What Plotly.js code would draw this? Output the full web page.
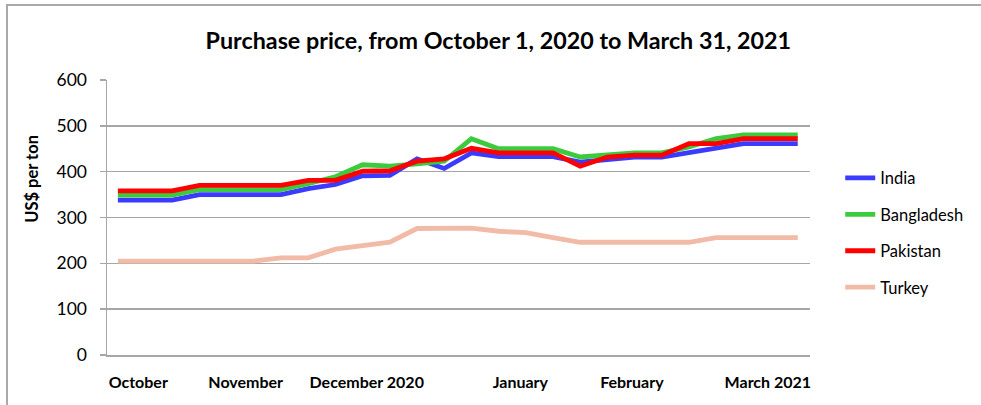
<!DOCTYPE html>
<html>
<head>
<meta charset="utf-8">
<script src="https://cdn.plot.ly/plotly-3.0.1.min.js"></script>
<style>
html,body{margin:0;padding:0;background:#fff;}
#wrap{position:relative;width:981px;height:405px;overflow:hidden;}
#chart{position:absolute;left:0;top:0;width:981px;height:405px;}
#frame{position:absolute;left:6px;top:4px;width:990px;height:420px;border-top:2px solid #a9a9a9;border-left:2px solid #a9a9a9;pointer-events:none;}
</style>
</head>
<body>
<div id="wrap"><div id="chart"></div><div id="frame"></div></div>
<script>
// Weekly observations, Oct 1 2020 .. Mar 31 2021 (26 points)
const weeks = Array.from({length: 26}, (_, i) => i);
const india      = [338,338,338,350,350,350,350,363,372,391,392,428,407,441,433,433,433,421,427,432,432,441,450,461,461,461];
const bangladesh = [349,349,349,361,361,361,361,374,389,415,412,417,423,472,450,450,450,432,436,441,441,454,472,480,480,480];
const pakistan   = [358,358,358,370,370,370,370,381,381,401,402,423,428,451,441,441,441,412,432,436,436,461,461,472,472,472];
const turkey     = [205,205,205,205,205,205,212,212,231,238,246,276,277,277,270,267,256,246,246,246,246,246,256,256,256,256];
const monthLabels = ["October","November","December 2020","January","February","March 2021"];
const monthPos    = [0.75, 4.7, 9.15, 14.8, 18.9, 23.9];

const FONT = "Lato, 'Open Sans', sans-serif";
function tr(name, y, color){
  return {x: weeks, y: y, name: name, type: 'scatter', mode: 'lines',
          legendgroup: name, line: {color: color, width: 4.8}, hoverinfo: 'skip'};
}
const data = [
  tr('India', india, '#3b3bff'),
  tr('Bangladesh', bangladesh, '#3ccb3c'),
  tr('Pakistan', pakistan, '#ff0000'),
  tr('Turkey', turkey, '#f2bba8')
];
const layout = {
  width: 981, height: 405,
  margin: {l: 107, r: 171, t: 80, b: 50},
  paper_bgcolor: '#fff', plot_bgcolor: '#fff',
  font: {family: FONT, size: 15, color: '#000'},
  title: {text: 'Purchase price, from October 1, 2020 to March 31, 2021',
          font: {family: FONT, size: 23.3, color: '#000', weight: 'bold'},
          x: 0.508, xanchor: 'center', y: 0.9, yanchor: 'middle'},
  xaxis: {range: [-0.4, 25.45], tickmode: 'array', tickvals: monthPos, ticktext: monthLabels,
          showgrid: false, zeroline: false, showline: true, linecolor: '#a6a6a6', linewidth: 1.5,
          ticks: '', ticklen: 0, ticklabelstandoff: 12,
          tickfont: {family: FONT, size: 16, weight: 'bold'}, fixedrange: true},
  yaxis: {range: [0, 600], tickvals: [0,100,200,300,400,500,600], showgrid: true,
          gridcolor: '#a6a6a6', gridwidth: 1.5, zeroline: false, showline: true,
          linecolor: '#a6a6a6', linewidth: 1.5, ticks: 'outside', ticklen: 6, tickcolor: '#a6a6a6',
          tickwidth: 1.5, ticklabelstandoff: 9, tickfont: {family: FONT, size: 17.5}, fixedrange: true},
  showlegend: true,
  legend: {x: 1.043, xanchor: 'left', y: 0.445, yanchor: 'middle', traceorder: 'grouped',
           tracegroupgap: 12, font: {family: FONT, size: 16.5}, bgcolor: 'rgba(0,0,0,0)'},
  annotations: [{text: '<b>US$ per ton</b>', textangle: -90, xref: 'paper', yref: 'paper',
                 x: -0.107, y: 0.64, xanchor: 'center', yanchor: 'middle', showarrow: false,
                 font: {family: FONT, size: 16.5}}]
};
Plotly.newPlot('chart', data, layout, {displayModeBar: false, staticPlot: true});
</script>
</body>
</html>
